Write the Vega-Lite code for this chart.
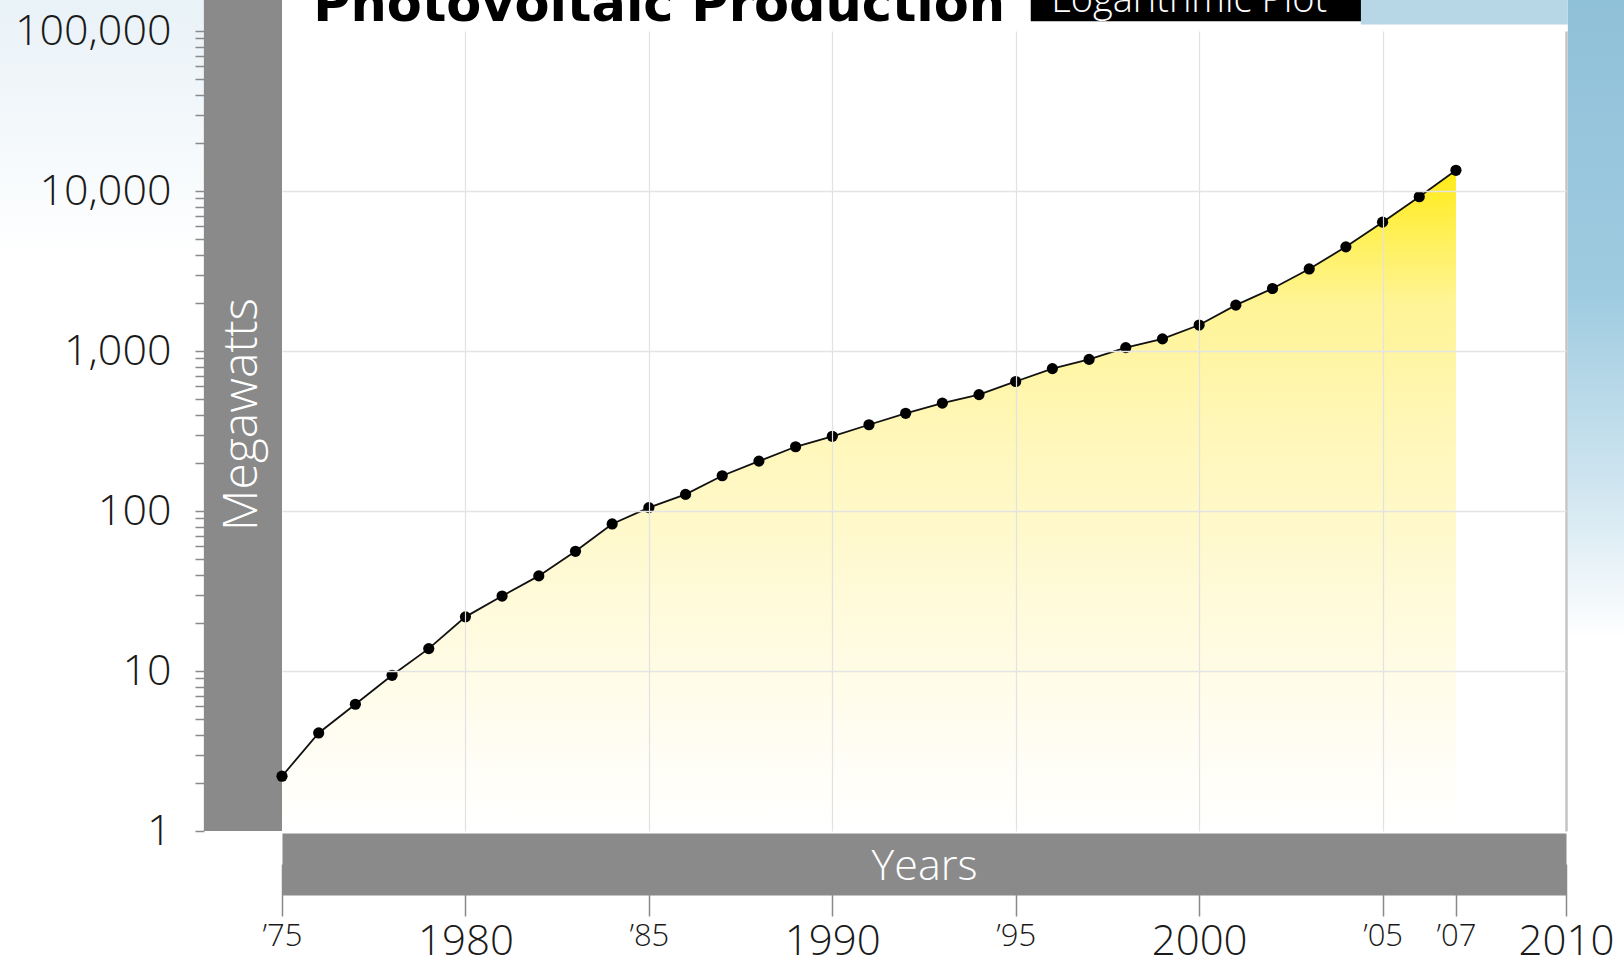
{
  "$schema": "https://vega.github.io/schema/vega-lite/v6.json",
  "width": 1284,
  "height": 800,
  "autosize": "none",
  "padding": {"left": 282, "top": 31, "right": 58, "bottom": 135},
  "background": "#ffffff",
  "config": {"view": {"stroke": null}},
  "data": {"values": [
    {"year": 1975, "mw": 2.2},
    {"year": 1976, "mw": 4.1},
    {"year": 1977, "mw": 6.2},
    {"year": 1978, "mw": 9.4},
    {"year": 1979, "mw": 13.8},
    {"year": 1980, "mw": 21.8},
    {"year": 1981, "mw": 29.4},
    {"year": 1982, "mw": 39.3},
    {"year": 1983, "mw": 56},
    {"year": 1984, "mw": 83},
    {"year": 1985, "mw": 105},
    {"year": 1986, "mw": 127},
    {"year": 1987, "mw": 166},
    {"year": 1988, "mw": 205},
    {"year": 1989, "mw": 252},
    {"year": 1990, "mw": 293},
    {"year": 1991, "mw": 346},
    {"year": 1992, "mw": 408},
    {"year": 1993, "mw": 472},
    {"year": 1994, "mw": 534},
    {"year": 1995, "mw": 645},
    {"year": 1996, "mw": 776},
    {"year": 1997, "mw": 886},
    {"year": 1998, "mw": 1050},
    {"year": 1999, "mw": 1190},
    {"year": 2000, "mw": 1453},
    {"year": 2001, "mw": 1934},
    {"year": 2002, "mw": 2458},
    {"year": 2003, "mw": 3258},
    {"year": 2004, "mw": 4477},
    {"year": 2005, "mw": 6386},
    {"year": 2006, "mw": 9215},
    {"year": 2007, "mw": 13470}
  ]},
  "layer": [
    {
      "mark": {"type": "area", "opacity": 0.92, "color": {"gradient": "linear", "x1": 0, "y1": 0, "x2": 0, "y2": 1, "stops": [
        {"offset": 0, "color": "#ffe900"}, {"offset": 0.1, "color": "#ffef4a"}, {"offset": 0.2, "color": "#fff38c"},
        {"offset": 0.38, "color": "#fff6b0"}, {"offset": 0.62, "color": "#fff9d2"}, {"offset": 0.85, "color": "#fffdf0"}, {"offset": 1, "color": "#ffffff"}]}},
      "encoding": {
        "x": {"field": "year", "type": "quantitative", "scale": {"domain": [1975, 2010], "nice": false, "zero": false},
          "axis": {
            "zindex": 1,
            "title": "Years",
            "titleColor": "#ffffff",
            "titleFont": "Open Sans",
            "titleFontWeight": 300,
            "titleFontSize": 43,
            "titleBaseline": "middle",
            "titleY": 2,
            "values": [1975, 1980, 1985, 1990, 1995, 2000, 2005, 2007, 2010],
            "labelExpr": "datum.value % 10 == 0 ? toString(datum.value) : '’' + substring(toString(datum.value), 2, 4)",
            "labelFont": "Open Sans",
            "labelFontWeight": 300,
            "labelColor": "#1a1a1a",
            "labelFontSize": {"condition": {"test": "datum.value % 10 == 0", "value": 42}, "value": 31},
            "labelFlush": false,
            "labelOverlap": false,
            "labelBound": false,
            "labelPadding": 5,
            "offset": 33,
            "domain": true,
            "domainColor": "#8a8a8a",
            "domainWidth": 62,
            "domainCap": "butt",
            "ticks": true,
            "tickSize": 52,
            "tickColor": "#8a8a8a",
            "tickWidth": 1.5,
            "grid": true,
            "gridColor": {"condition": {"test": "datum.value == 2010", "value": "#c4c4c4"}, "value": "#e2e2e2"},
            "gridWidth": {"condition": {"test": "datum.value == 2010", "value": 2.5}, "value": 1.2},
            "gridOpacity": {"condition": {"test": "datum.value == 1975 || datum.value == 2007", "value": 0}, "value": 1}
          }},
        "y": {"field": "mw", "type": "quantitative", "scale": {"type": "log", "domain": [1, 100000], "nice": false},
          "axis": {
            "zindex": 1,
            "title": "Megawatts",
            "titleColor": "#ffffff",
            "titleFont": "Open Sans",
            "titleFontWeight": 300,
            "titleFontSize": 48,
            "titleAngle": -90,
            "titleAlign": "center",
            "titleBaseline": "middle",
            "titleX": 38,
            "titleY": 383,
            "values": [1, 2, 3, 4, 5, 6, 7, 8, 9, 10, 20, 30, 40, 50, 60, 70, 80, 90, 100, 200, 300, 400, 500, 600, 700, 800, 900, 1000, 2000, 3000, 4000, 5000, 6000, 7000, 8000, 9000, 10000, 20000, 30000, 40000, 50000, 60000, 70000, 80000, 90000, 100000],
            "labelExpr": "indexof([1, 10, 100, 1000, 10000, 100000], datum.value) >= 0 ? format(datum.value, ',') : ''",
            "labelFont": "Open Sans",
            "labelFontWeight": 300,
            "labelFontSize": 43,
            "labelColor": "#1a1a1a",
            "labelOverlap": false,
            "labelBound": false,
            "labelFlush": false,
            "labelPadding": 24,
            "offset": 78,
            "domain": false,
            "ticks": true,
            "tickSize": 9,
            "tickColor": "#8a8a8a",
            "tickWidth": 1.5,
            "grid": true,
            "gridColor": "#e4e4e4",
            "gridWidth": 1.5,
            "gridOpacity": {"condition": {"test": "indexof([10, 100, 1000, 10000], datum.value) >= 0", "value": 1}, "value": 0}
          }},
        "y2": {"datum": 1}
      }
    },
    {
      "data": {"values": [{}]},
      "mark": {"type": "rect", "color": {"gradient": "linear", "x1": 0, "y1": 0, "x2": 0, "y2": 1, "stops": [
        {"offset": 0, "color": "#dfedf5"}, {"offset": 0.5, "color": "#eef5f9"}, {"offset": 1, "color": "#ffffff"}]}},
      "encoding": {
        "x": {"datum": 1960, "type": "quantitative"},
        "x2": {"datum": 1972.87},
        "y": {"datum": 3700, "type": "quantitative"},
        "y2": {"datum": 1000000}
      }
    },
    {
      "data": {"values": [{}]},
      "mark": {"type": "rect", "color": {"gradient": "linear", "x1": 0, "y1": 0, "x2": 0, "y2": 1, "stops": [
        {"offset": 0, "color": "#88bcd6"}, {"offset": 0.55, "color": "#9fcbe0"}, {"offset": 0.8, "color": "#cfe5f0"}, {"offset": 1, "color": "#ffffff"}]}},
      "encoding": {
        "x": {"datum": 2010.05, "type": "quantitative"},
        "x2": {"datum": 2013},
        "y": {"datum": 16, "type": "quantitative"},
        "y2": {"datum": 1000000}
      }
    },
    {
      "data": {"values": [{}]},
      "mark": {"type": "rect", "color": "#b7d6e6"},
      "encoding": {
        "x": {"datum": 2004.41, "type": "quantitative"},
        "x2": {"datum": 2010.05},
        "y": {"datum": 110000, "type": "quantitative"},
        "y2": {"datum": 1000000}
      }
    },
    {
      "data": {"values": [{}]},
      "mark": {"type": "rect", "color": "#8a8a8a"},
      "encoding": {
        "x": {"datum": 1972.87, "type": "quantitative"},
        "x2": {"datum": 1975},
        "y": {"datum": 1, "type": "quantitative"},
        "y2": {"datum": 1000000}
      }
    },
    {
      "mark": {"type": "line", "color": "#111111", "strokeWidth": 1.8},
      "encoding": {
        "x": {"field": "year", "type": "quantitative"},
        "y": {"field": "mw", "type": "quantitative"}
      }
    },
    {
      "mark": {"type": "point", "filled": true, "color": "#000000", "opacity": 1, "size": 125},
      "encoding": {
        "x": {"field": "year", "type": "quantitative"},
        "y": {"field": "mw", "type": "quantitative"}
      }
    },
    {
      "data": {"values": [{}]},
      "mark": {"type": "text", "text": "Photovoltaic Production", "font": "DejaVu Sans", "fontWeight": "bold", "fontSize": 51, "align": "left", "baseline": "alphabetic", "color": "#000000"},
      "encoding": {
        "x": {"datum": 1975.85, "type": "quantitative"},
        "y": {"datum": 115000, "type": "quantitative"}
      }
    },
    {
      "data": {"values": [{}]},
      "mark": {"type": "rect", "color": "#000000"},
      "encoding": {
        "x": {"datum": 1995.41, "type": "quantitative"},
        "x2": {"datum": 2004.41},
        "y": {"datum": 115000, "type": "quantitative"},
        "y2": {"datum": 1000000}
      }
    },
    {
      "data": {"values": [{}]},
      "mark": {"type": "text", "text": "Logarithmic Plot", "font": "Open Sans", "fontWeight": 300, "fontSize": 38, "align": "center", "baseline": "alphabetic", "color": "#ffffff"},
      "encoding": {
        "x": {"datum": 1999.73, "type": "quantitative"},
        "y": {"datum": 131000, "type": "quantitative"}
      }
    }
  ]
}
